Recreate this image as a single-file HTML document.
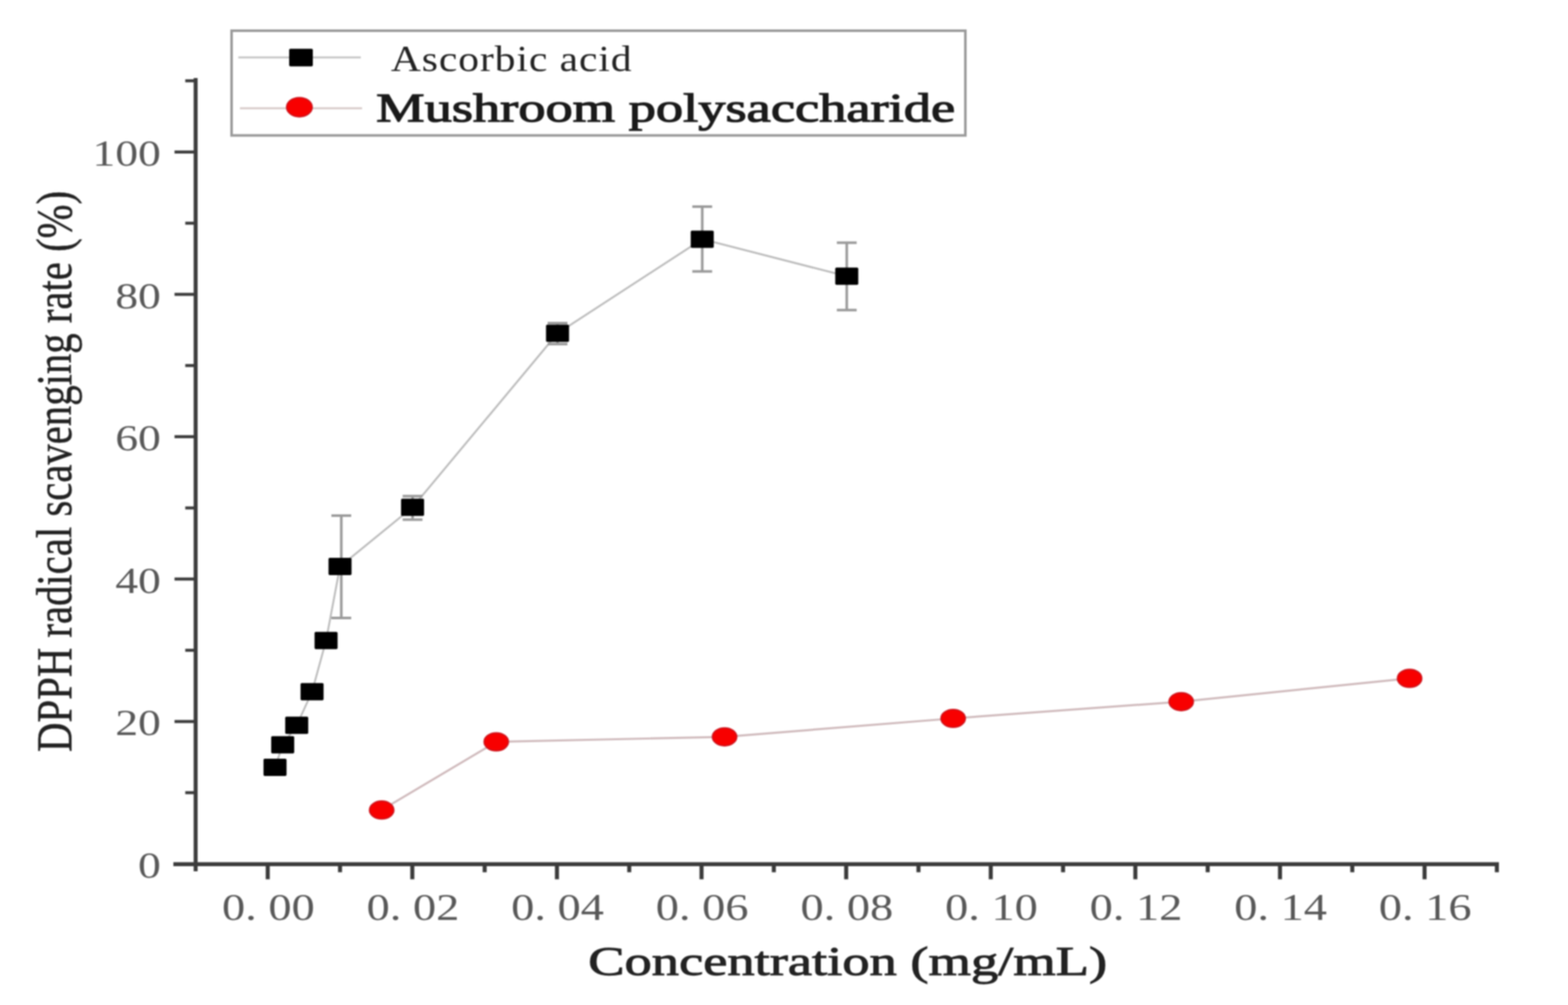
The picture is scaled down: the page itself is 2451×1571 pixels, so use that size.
<!DOCTYPE html><html><head><meta charset="utf-8"><title>DPPH radical scavenging rate</title>
<style>html,body{margin:0;padding:0;background:#fff;}svg{display:block;filter:blur(0.8px);}</style></head><body>
<svg width="2451" height="1571" viewBox="0 0 2451 1571">
<rect width="2451" height="1571" fill="#fff"/>
<rect x="362" y="48" width="1147" height="163.7" fill="none" stroke="#9a9a9a" stroke-width="4"/>
<line x1="372.5" y1="89.7" x2="564" y2="89.7" stroke="#c4c4c4" stroke-width="3"/>
<rect x="452" y="76.2" width="37" height="27.5" rx="2" fill="#000"/>
<line x1="375" y1="169.2" x2="566" y2="169.2" stroke="#d6cac8" stroke-width="3"/>
<ellipse cx="468" cy="167.6" rx="20" ry="15" fill="#f80000" stroke="#d0141c" stroke-width="2.2"/>
<text transform="translate(611,110.5) scale(1.14,1)" font-family="Liberation Serif, serif" font-size="57" fill="#222" textLength="330" lengthAdjust="spacing">Ascorbic acid</text>
<text x="588" y="189.5" font-family="Liberation Serif, serif" font-size="64" fill="#1a1a1a" stroke="#1a1a1a" stroke-width="1.7" textLength="905" lengthAdjust="spacingAndGlyphs">Mushroom polysaccharide</text>
<line x1="305.8" y1="122" x2="305.8" y2="1362" stroke="#3c3c3c" stroke-width="6.2"/>
<line x1="271" y1="1350.8" x2="2343" y2="1350.8" stroke="#3c3c3c" stroke-width="6.2"/>
<line x1="272.8" y1="1127.8" x2="305.5" y2="1127.8" stroke="#3c3c3c" stroke-width="4.7"/>
<line x1="272.8" y1="905.2" x2="305.5" y2="905.2" stroke="#3c3c3c" stroke-width="4.7"/>
<line x1="272.8" y1="682.7" x2="305.5" y2="682.7" stroke="#3c3c3c" stroke-width="4.7"/>
<line x1="272.8" y1="460.1" x2="305.5" y2="460.1" stroke="#3c3c3c" stroke-width="4.7"/>
<line x1="272.8" y1="237.6" x2="305.5" y2="237.6" stroke="#3c3c3c" stroke-width="4.7"/>
<line x1="289.6" y1="1239.1" x2="305.5" y2="1239.1" stroke="#3c3c3c" stroke-width="4.7"/>
<line x1="289.6" y1="1016.5" x2="305.5" y2="1016.5" stroke="#3c3c3c" stroke-width="4.7"/>
<line x1="289.6" y1="794.0" x2="305.5" y2="794.0" stroke="#3c3c3c" stroke-width="4.7"/>
<line x1="289.6" y1="571.4" x2="305.5" y2="571.4" stroke="#3c3c3c" stroke-width="4.7"/>
<line x1="289.6" y1="348.9" x2="305.5" y2="348.9" stroke="#3c3c3c" stroke-width="4.7"/>
<line x1="289.6" y1="126.3" x2="305.5" y2="126.3" stroke="#3c3c3c" stroke-width="4.7"/>
<line x1="418.5" y1="1350" x2="418.5" y2="1374.5" stroke="#3a3a3a" stroke-width="6.3"/>
<line x1="644.5" y1="1350" x2="644.5" y2="1374.5" stroke="#3a3a3a" stroke-width="6.3"/>
<line x1="870.6" y1="1350" x2="870.6" y2="1374.5" stroke="#3a3a3a" stroke-width="6.3"/>
<line x1="1096.6" y1="1350" x2="1096.6" y2="1374.5" stroke="#3a3a3a" stroke-width="6.3"/>
<line x1="1322.7" y1="1350" x2="1322.7" y2="1374.5" stroke="#3a3a3a" stroke-width="6.3"/>
<line x1="1548.7" y1="1350" x2="1548.7" y2="1374.5" stroke="#3a3a3a" stroke-width="6.3"/>
<line x1="1774.7" y1="1350" x2="1774.7" y2="1374.5" stroke="#3a3a3a" stroke-width="6.3"/>
<line x1="2000.8" y1="1350" x2="2000.8" y2="1374.5" stroke="#3a3a3a" stroke-width="6.3"/>
<line x1="2226.8" y1="1350" x2="2226.8" y2="1374.5" stroke="#3a3a3a" stroke-width="6.3"/>
<line x1="531.5" y1="1350" x2="531.5" y2="1363.5" stroke="#3a3a3a" stroke-width="6.3"/>
<line x1="757.6" y1="1350" x2="757.6" y2="1363.5" stroke="#3a3a3a" stroke-width="6.3"/>
<line x1="983.6" y1="1350" x2="983.6" y2="1363.5" stroke="#3a3a3a" stroke-width="6.3"/>
<line x1="1209.6" y1="1350" x2="1209.6" y2="1363.5" stroke="#3a3a3a" stroke-width="6.3"/>
<line x1="1435.7" y1="1350" x2="1435.7" y2="1363.5" stroke="#3a3a3a" stroke-width="6.3"/>
<line x1="1661.7" y1="1350" x2="1661.7" y2="1363.5" stroke="#3a3a3a" stroke-width="6.3"/>
<line x1="1887.8" y1="1350" x2="1887.8" y2="1363.5" stroke="#3a3a3a" stroke-width="6.3"/>
<line x1="2113.8" y1="1350" x2="2113.8" y2="1363.5" stroke="#3a3a3a" stroke-width="6.3"/>
<line x1="2339.8" y1="1350" x2="2339.8" y2="1363.5" stroke="#3a3a3a" stroke-width="6.3"/>
<text transform="translate(251.5,1371.8) scale(1.24,1)" font-family="Liberation Serif, serif" font-size="57.5" fill="#585858" text-anchor="end">0</text>
<text transform="translate(251.5,1149.3) scale(1.24,1)" font-family="Liberation Serif, serif" font-size="57.5" fill="#585858" text-anchor="end">20</text>
<text transform="translate(251.5,926.8) scale(1.24,1)" font-family="Liberation Serif, serif" font-size="57.5" fill="#585858" text-anchor="end">40</text>
<text transform="translate(251.5,704.2) scale(1.24,1)" font-family="Liberation Serif, serif" font-size="57.5" fill="#585858" text-anchor="end">60</text>
<text transform="translate(251.5,481.6) scale(1.24,1)" font-family="Liberation Serif, serif" font-size="57.5" fill="#585858" text-anchor="end">80</text>
<text transform="translate(251.5,259.1) scale(1.24,1)" font-family="Liberation Serif, serif" font-size="57.5" fill="#585858" text-anchor="end">100</text>
<text transform="translate(419.5,1437.5) scale(1.24,1)" font-family="Liberation Serif, serif" font-size="58.5" fill="#585858" text-anchor="middle">0. 00</text>
<text transform="translate(645.5,1437.5) scale(1.24,1)" font-family="Liberation Serif, serif" font-size="58.5" fill="#585858" text-anchor="middle">0. 02</text>
<text transform="translate(871.6,1437.5) scale(1.24,1)" font-family="Liberation Serif, serif" font-size="58.5" fill="#585858" text-anchor="middle">0. 04</text>
<text transform="translate(1097.6,1437.5) scale(1.24,1)" font-family="Liberation Serif, serif" font-size="58.5" fill="#585858" text-anchor="middle">0. 06</text>
<text transform="translate(1323.7,1437.5) scale(1.24,1)" font-family="Liberation Serif, serif" font-size="58.5" fill="#585858" text-anchor="middle">0. 08</text>
<text transform="translate(1549.7,1437.5) scale(1.24,1)" font-family="Liberation Serif, serif" font-size="58.5" fill="#585858" text-anchor="middle">0. 10</text>
<text transform="translate(1775.7,1437.5) scale(1.24,1)" font-family="Liberation Serif, serif" font-size="58.5" fill="#585858" text-anchor="middle">0. 12</text>
<text transform="translate(2001.8,1437.5) scale(1.24,1)" font-family="Liberation Serif, serif" font-size="58.5" fill="#585858" text-anchor="middle">0. 14</text>
<text transform="translate(2227.8,1437.5) scale(1.24,1)" font-family="Liberation Serif, serif" font-size="58.5" fill="#585858" text-anchor="middle">0. 16</text>
<text x="919.5" y="1523.5" font-family="Liberation Serif, serif" font-size="63" fill="#222" stroke="#222" stroke-width="1.3" textLength="811" lengthAdjust="spacingAndGlyphs">Concentration (mg/mL)</text>
<text transform="translate(110.8,1175.4) rotate(-90)" font-family="Liberation Serif, serif" font-size="79" fill="#222" stroke="#222" stroke-width="0.7" textLength="877" lengthAdjust="spacingAndGlyphs">DPPH radical scavenging rate (%)</text>
<polyline fill="none" stroke="#bcbcbc" stroke-width="3" points="429.9,1199.4 441.9,1164.3 463.8,1133.8 487.8,1081.3 509.7,1001.2 531.5,885.5 644.9,793 871.5,521 1097.7,373.9 1323.6,431.8"/>
<polyline fill="none" stroke="#cfb9bb" stroke-width="3.2" points="596.6,1266.2 775.7,1159.6 1132.6,1151.8 1489.9,1123 1846.4,1096.8 2203.4,1060.4"/>
<g stroke="#9a9a9a" stroke-width="4"><line x1="533.5" y1="806" x2="533.5" y2="966"/><line x1="518.0" y1="806" x2="549.0" y2="806"/><line x1="518.0" y1="966" x2="549.0" y2="966"/></g>
<g stroke="#9a9a9a" stroke-width="4"><line x1="644.9" y1="775.5" x2="644.9" y2="812.3"/><line x1="629.4" y1="775.5" x2="660.4" y2="775.5"/><line x1="629.4" y1="812.3" x2="660.4" y2="812.3"/></g>
<g stroke="#9a9a9a" stroke-width="4"><line x1="871.5" y1="505.1" x2="871.5" y2="537.8"/><line x1="856.0" y1="505.1" x2="887.0" y2="505.1"/><line x1="856.0" y1="537.8" x2="887.0" y2="537.8"/></g>
<g stroke="#9a9a9a" stroke-width="4"><line x1="1097.7" y1="323" x2="1097.7" y2="424.3"/><line x1="1082.2" y1="323" x2="1113.2" y2="323"/><line x1="1082.2" y1="424.3" x2="1113.2" y2="424.3"/></g>
<g stroke="#9a9a9a" stroke-width="4"><line x1="1323.6" y1="379.4" x2="1323.6" y2="484.7"/><line x1="1308.1" y1="379.4" x2="1339.1" y2="379.4"/><line x1="1308.1" y1="484.7" x2="1339.1" y2="484.7"/></g>
<rect x="411.9" y="1185.9" width="36" height="27" rx="2" fill="#000"/>
<rect x="423.9" y="1150.8" width="36" height="27" rx="2" fill="#000"/>
<rect x="445.8" y="1120.3" width="36" height="27" rx="2" fill="#000"/>
<rect x="469.8" y="1067.8" width="36" height="27" rx="2" fill="#000"/>
<rect x="491.7" y="987.7" width="36" height="27" rx="2" fill="#000"/>
<rect x="513.5" y="872.0" width="36" height="27" rx="2" fill="#000"/>
<rect x="626.9" y="779.5" width="36" height="27" rx="2" fill="#000"/>
<rect x="853.5" y="507.5" width="36" height="27" rx="2" fill="#000"/>
<rect x="1079.7" y="360.4" width="36" height="27" rx="2" fill="#000"/>
<rect x="1305.6" y="418.3" width="36" height="27" rx="2" fill="#000"/>
<ellipse cx="596.6" cy="1266.2" rx="19" ry="14" fill="#f80000" stroke="#d0141c" stroke-width="2.2"/>
<ellipse cx="775.7" cy="1159.6" rx="19" ry="14" fill="#f80000" stroke="#d0141c" stroke-width="2.2"/>
<ellipse cx="1132.6" cy="1151.8" rx="19" ry="14" fill="#f80000" stroke="#d0141c" stroke-width="2.2"/>
<ellipse cx="1489.9" cy="1123" rx="19" ry="14" fill="#f80000" stroke="#d0141c" stroke-width="2.2"/>
<ellipse cx="1846.4" cy="1096.8" rx="19" ry="14" fill="#f80000" stroke="#d0141c" stroke-width="2.2"/>
<ellipse cx="2203.4" cy="1060.4" rx="19" ry="14" fill="#f80000" stroke="#d0141c" stroke-width="2.2"/>
</svg></body></html>
